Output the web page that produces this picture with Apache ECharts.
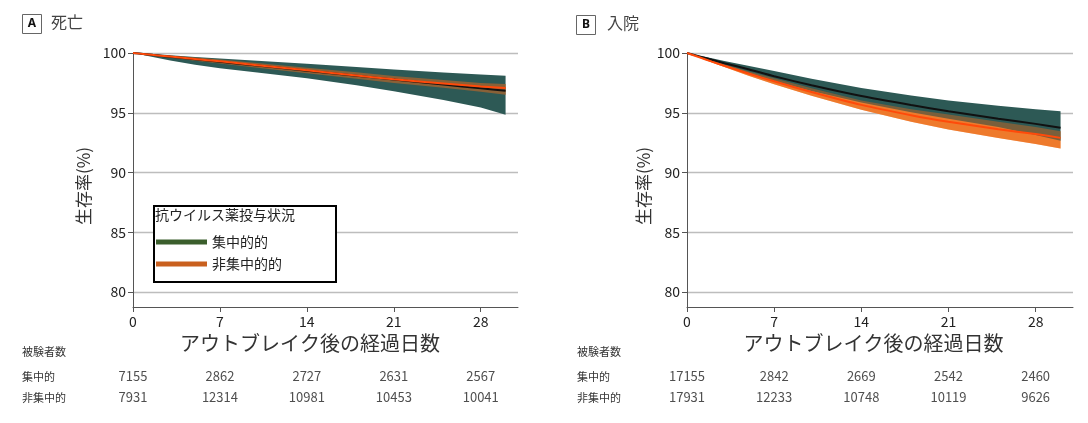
<!DOCTYPE html>
<html>
<head>
<meta charset="utf-8">
<script src="https://cdn.jsdelivr.net/npm/echarts@6/dist/echarts.min.js"></script>
<style>
html,body{margin:0;padding:0;background:#fff;}
#container{width:1088px;height:423px;}
</style>
</head>
<body>
<div id="container"></div>
<script>
var days = [0, 1, 2, 3, 5, 7, 10, 14, 18, 21, 25, 28, 30];
var xTicks = [0, 7, 14, 21, 28];
var yTicks = [80, 85, 90, 95, 100];
var rowNames = ['非集中的', '集中的'];
var lineNames = ['集中的的', '非集中的的'];

// A 死亡
var deathConc   = [100, 99.9, 99.79, 99.68, 99.47, 99.26, 98.95, 98.52, 98.1, 97.78, 97.36, 97.05, 96.84];
var deathConcHi = [100, 99.95, 99.9, 99.82, 99.67, 99.55, 99.35, 99.1, 98.82, 98.62, 98.36, 98.2, 98.1];
var deathConcLo = [100, 99.8, 99.58, 99.37, 99.02, 98.72, 98.36, 97.88, 97.3, 96.8, 96.07, 95.45, 94.83];
var deathNon    = [100, 99.9, 99.8, 99.7, 99.5, 99.3, 98.98, 98.55, 98.12, 97.8, 97.45, 97.2, 97.07];
var deathNonHi  = [100, 99.93, 99.86, 99.78, 99.62, 99.45, 99.16, 98.76, 98.38, 98.08, 97.75, 97.5, 97.4];
var deathNonLo  = [100, 99.87, 99.74, 99.6, 99.36, 99.12, 98.76, 98.3, 97.84, 97.5, 97.1, 96.75, 96.5];
var deathRiskConc = [7155, 2862, 2727, 2631, 2567];
var deathRiskNon  = [7931, 12314, 10981, 10453, 10041];

// B 入院
var hospConc   = [100, 99.72, 99.43, 99.15, 98.62, 98.05, 97.3, 96.4, 95.65, 95.12, 94.5, 94.07, 93.75];
var hospConcHi = [100, 99.78, 99.56, 99.34, 98.92, 98.5, 97.85, 97.07, 96.45, 96.03, 95.58, 95.3, 95.12];
var hospConcLo = [100, 99.66, 99.3, 98.95, 98.3, 97.66, 96.82, 95.85, 95.05, 94.5, 93.8, 93.15, 92.65];
var hospNon    = [100, 99.64, 99.28, 98.93, 98.26, 97.63, 96.74, 95.66, 94.8, 94.25, 93.62, 93.22, 92.9];
var hospNonHi  = [100, 99.7, 99.38, 99.05, 98.45, 97.88, 97.05, 96.02, 95.3, 94.85, 94.25, 93.8, 93.45];
var hospNonLo  = [100, 99.6, 99.2, 98.82, 98.08, 97.38, 96.42, 95.25, 94.25, 93.6, 92.88, 92.38, 92.0];
var hospRiskConc = [17155, 2842, 2669, 2542, 2460];
var hospRiskNon  = [17931, 12233, 10748, 10119, 9626];

var GREEN = '#2d5955';
var ORANGE = '#ff8a3a';
var FONT = "'Noto Sans CJK JP', 'Noto Sans', sans-serif";

function pairs(ys) {
	return days.map(function (d, i) { return [d, ys[i]]; });
}

// confidence band as one polygon, corners placed through the axis scales
function band(idx, lo, hi, color, opacity) {
	return {
		type: 'custom', xAxisIndex: idx, yAxisIndex: idx, silent: true,
		data: [[days[0], hi[0]]],
		renderItem: function (params, api) {
			var pts = [];
			days.forEach(function (d, i) { pts.push(api.coord([d, hi[i]])); });
			for (var i = days.length - 1; i >= 0; i--) {
				pts.push(api.coord([days[i], lo[i]]));
			}
			return {
				type: 'polygon', shape: { points: pts },
				style: { fill: color, opacity: opacity }
			};
		}
	};
}

function meanLine(idx, name, ys, color) {
	return {
		type: 'line', name: name, xAxisIndex: idx, yAxisIndex: idx,
		data: pairs(ys), symbol: 'none', smooth: 0.2,
		lineStyle: { color: color, width: 2 }, itemStyle: { color: color }
	};
}

function riskRow(idx, conc, non) {
	var data = [];
	xTicks.forEach(function (d, i) {
		data.push({ value: [d, '集中的', conc[i]] });
		data.push({ value: [d, '非集中的', non[i]] });
	});
	return {
		type: 'scatter', xAxisIndex: idx, yAxisIndex: idx, data: data,
		symbolSize: 1, itemStyle: { color: 'rgba(0,0,0,0)' }, silent: true,
		label: {
			show: true, position: 'inside', color: '#222', fontSize: 13, fontFamily: FONT,
			formatter: function (p) { return p.value[2]; }
		}
	};
}

function mainX(idx, namePad) {
	return {
		type: 'value', gridIndex: idx, min: 0, max: 31, interval: 7,
		axisLine: { lineStyle: { color: '#555', width: 1 } },
		axisTick: { show: true, length: 5, customValues: xTicks, lineStyle: { color: '#555' } },
		axisLabel: { customValues: xTicks, color: '#222', fontSize: 14, margin: 8 },
		splitLine: { show: false },
		name: 'アウトブレイク後の経過日数', nameLocation: 'middle', nameGap: 25,
		nameTextStyle: { fontSize: 20, color: '#333', padding: [0, namePad, 0, 0] }
	};
}

function mainY(idx, gap) {
	return {
		type: 'value', gridIndex: idx, min: 78.75, max: 100, splitNumber: 4,
		axisLine: { show: true, lineStyle: { color: '#555', width: 1 } },
		axisTick: { show: true, length: 5, customValues: yTicks, lineStyle: { color: '#555' } },
		axisLabel: { customValues: yTicks, color: '#222', fontSize: 14, margin: 7 },
		splitLine: { show: true, lineStyle: { color: '#bdbdbd', width: 1.3 } },
		name: '生存率(%)', nameLocation: 'middle', nameRotate: 90, nameGap: gap,
		nameTextStyle: { fontSize: 17, color: '#333', padding: [0, 12, 0, 0] }
	};
}

function tableX(idx) {
	return { type: 'value', gridIndex: idx, min: 0, max: 31, show: false };
}
function tableY(idx, margin) {
	return {
		type: 'category', gridIndex: idx, data: rowNames,
		axisLine: { show: false }, axisTick: { show: false }, splitLine: { show: false },
		axisLabel: { align: 'left', margin: margin, fontSize: 11, color: '#333' }
	};
}

var series = [
	band(0, deathNonLo, deathNonHi, ORANGE, 1),
	band(0, deathConcLo, deathConcHi, GREEN, 1),
	band(0, deathNonLo, deathNonHi, '#e66a1c', 0.5),
	meanLine(0, lineNames[0], deathConc, '#111'),
	meanLine(0, lineNames[1], deathNon, '#ff4a0a'),
	band(1, hospNonLo, hospNonHi, ORANGE, 1),
	band(1, hospConcLo, hospConcHi, GREEN, 1),
	band(1, hospNonLo, hospNonHi, '#d9651c', 0.45),
	meanLine(1, lineNames[0], hospConc, '#111'),
	meanLine(1, lineNames[1], hospNon, '#ff4a0a'),
	riskRow(2, deathRiskConc, deathRiskNon),
	riskRow(3, hospRiskConc, hospRiskNon)
];

var plainTitle = { fontWeight: 'normal', fontFamily: FONT };

var option = {
	animation: false,
	textStyle: { fontFamily: FONT },
	title: [
		{ text: '死亡', left: 51, top: 14, padding: 0, textStyle: Object.assign({ fontSize: 16, color: '#444' }, plainTitle) },
		{ text: '入院', left: 607, top: 15, padding: 0, textStyle: Object.assign({ fontSize: 16, color: '#444' }, plainTitle) },
		{ text: '抗ウイルス薬投与状況', left: 155, top: 208, padding: 0, textStyle: Object.assign({ fontSize: 14, color: '#222' }, plainTitle) },
		{ text: '被験者数', left: 22, top: 346, padding: 0, textStyle: Object.assign({ fontSize: 11, color: '#333' }, plainTitle) },
		{ text: '被験者数', left: 577, top: 346, padding: 0, textStyle: Object.assign({ fontSize: 11, color: '#333' }, plainTitle) }
	],
	graphic: [
		{ type: 'rect', shape: { x: 22.5, y: 14.5, width: 19, height: 19 }, style: { fill: '#fff', stroke: '#666', lineWidth: 1 } },
		{ type: 'text', x: 32, y: 24, style: { text: 'A', align: 'center', verticalAlign: 'middle', font: 'bold 12px Noto Sans', fill: '#111' } },
		{ type: 'rect', shape: { x: 576.5, y: 15.5, width: 19, height: 19 }, style: { fill: '#fff', stroke: '#666', lineWidth: 1 } },
		{ type: 'text', x: 586, y: 25, style: { text: 'B', align: 'center', verticalAlign: 'middle', font: 'bold 12px Noto Sans', fill: '#111' } }
	],
	legend: {
		left: 154, top: 206, orient: 'vertical', align: 'left',
		padding: [29, 54, 11, 2], itemGap: 8, itemWidth: 51, itemHeight: 5, icon: 'rect',
		backgroundColor: '#fff', borderColor: '#000', borderWidth: 2, selectedMode: false,
		textStyle: { fontSize: 14, color: '#222' },
		data: [
			{ name: lineNames[0], itemStyle: { color: '#3b5e2c' } },
			{ name: lineNames[1], itemStyle: { color: '#c9601e' } }
		]
	},
	grid: [
		{ left: 133, top: 53, width: 385, height: 254 },
		{ left: 687, top: 53, width: 386, height: 254 },
		{ left: 133, top: 366, width: 385, height: 42 },
		{ left: 687, top: 366, width: 386, height: 42 }
	],
	xAxis: [mainX(0, 31), mainX(1, 13), tableX(2), tableX(3)],
	yAxis: [mainY(0, 41), mainY(1, 35), tableY(2, 111), tableY(3, 110)],
	series: series
};

var myChart = echarts.init(document.getElementById('container'));
myChart.setOption(option);
</script>
</body>
</html>
